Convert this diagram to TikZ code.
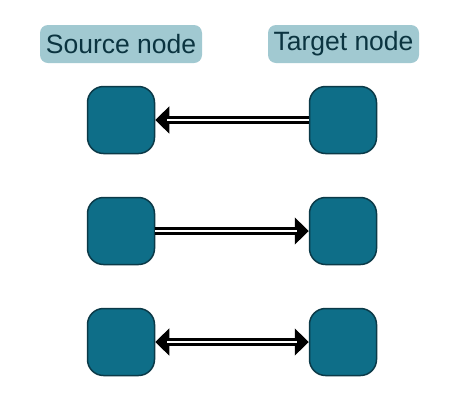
\documentclass[tikz,border=0pt]{standalone}
\usepackage{fontspec}
\setmainfont{Liberation Sans}
\usetikzlibrary{arrows.meta}
\definecolor{lbl}{HTML}{A1C9D1}
\definecolor{lbltext}{HTML}{0B3440}
\definecolor{nodefill}{HTML}{0E6E88}
\definecolor{nodeline}{HTML}{0B3A48}
\tikzset{
  label box/.style={fill=lbl, rounded corners=8pt, minimum width=162pt, minimum height=38pt, inner sep=0pt, text=lbltext, font=\fontsize{26.5}{30}\selectfont},
  nodebox/.style={draw=nodeline, line width=1.5pt, fill=nodefill, rounded corners=16pt, minimum width=67pt, minimum height=67pt, inner sep=0pt},
  dbl/.style={draw=black, double=white, double distance=2.5pt, line width=3pt},
  bigtip/.tip={Triangle[length=14pt,width=27pt]},
  headline/.style={line width=1pt, draw=black},
}
\begin{document}
\begin{tikzpicture}[x=1pt,y=1pt]
\useasboundingbox (0,0) rectangle (460,-400);
\node[label box] (src) at (121,-44) {Source node};
\node[label box, minimum width=151pt] (tgt) at (343.5,-44) {Target node};
\node[nodebox] (s1) at (121,-120) {};
\node[nodebox] (t1) at (343,-120) {};
\node[nodebox] (s2) at (121,-231) {};
\node[nodebox] (t2) at (343,-231) {};
\node[nodebox] (s3) at (121,-342) {};
\node[nodebox] (t3) at (343,-342) {};
% row 1: target -> source
\draw[headline, -bigtip] (t1.west) -- (s1.east);
\draw[dbl, shorten >=12pt] (t1.west) -- (s1.east);
% row 2: source -> target
\draw[headline, -bigtip] (s2.east) -- (t2.west);
\draw[dbl, shorten >=12pt] (s2.east) -- (t2.west);
% row 3: both
\draw[headline, bigtip-bigtip] (s3.east) -- (t3.west);
\draw[dbl, shorten >=12pt, shorten <=12pt] (s3.east) -- (t3.west);
\end{tikzpicture}
\end{document}
